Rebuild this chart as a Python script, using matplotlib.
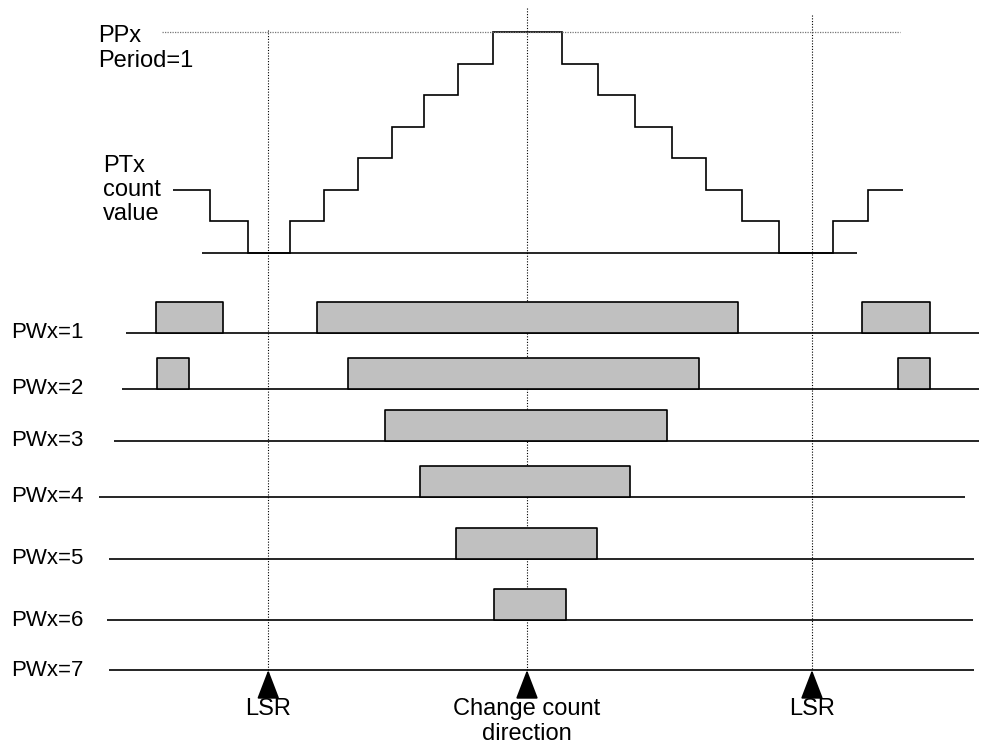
#! /usr/bin/env python3

import matplotlib
matplotlib.use("Agg")
import matplotlib.pyplot as plt

plt.rcParams['font.family'] = ['Liberation Sans', 'DejaVu Sans']

# time in timer ticks, 0 = change of count direction
count_edges = [-10.26, -9.2, -8.1, -6.87, -5.88, -4.9, -3.9, -2.99, -2.0, -0.99,
               1.01, 2.06, 3.13, 4.2, 5.19, 6.23, 7.3, 8.87, 9.88, 10.9]
count_levels = [2, 1, 0, 1, 2, 3, 4, 5, 6, 7, 6, 5, 4, 3, 2, 1, 0, 1, 2]
period_value = 7
count_axis_span = (-9.42, 9.57)
ppx_span = (-10.58, 10.81)

pw_labels = ["PWx=1", "PWx=2", "PWx=3", "PWx=4", "PWx=5", "PWx=6", "PWx=7"]
pw_pulses = [
    [(-10.75, -8.81), (-6.09, 6.12), (9.71, 11.68)],
    [(-10.72, -9.80), (-5.19, 4.99), (10.75, 11.68)],
    [(-4.12, 4.06)],
    [(-3.10, 2.99)],
    [(-2.06, 2.03)],
    [(-0.96, 1.13)],
    [],
]
pw_spans = [(-11.62, 13.10), (-11.74, 13.10), (-11.97, 13.10), (-12.41, 12.70),
            (-12.12, 12.96), (-12.17, 12.93), (-12.12, 12.96)]

event_times = [-7.5, 0.0, 8.26]
event_labels = ["LSR", "Change count\ndirection", "LSR"]

# layout (pixels)
W, H = 981, 745
PX_PER_TICK = 34.5
T0_PX = 527
row_y = [333, 389, 441, 497, 559, 620, 670]
pulse_h = 31
count_base_px = 253
step_px = 31.57
event_top_px = [30, 8, 15]
label_t = (11 - T0_PX) / PX_PER_TICK
fs_row = 16
fs = 17
lw = 1.2
grey = "#c0c0c0"

fig = plt.figure(figsize=(W / 100, H / 100), dpi=100)
ax = fig.add_axes([0, 0, 1, 1])
ax_cnt = fig.add_axes([0, 0, 1, 1])
xlim = (-T0_PX / PX_PER_TICK, (W - T0_PX) / PX_PER_TICK)
for a in (ax, ax_cnt):
    a.set_xlim(*xlim)
    a.axis("off")
ax.set_ylim(H, 0)
ax_cnt.set_ylim((count_base_px - H) / step_px, count_base_px / step_px)
ax_cnt.patch.set_visible(False)

# counter staircase
ax_cnt.hlines(period_value, *ppx_span, colors="#777777", linestyles=(0, (1, 1)), lw=0.9)
ax_cnt.hlines(0, *count_axis_span, colors="black", lw=lw)
ax_cnt.stairs(count_levels, count_edges, baseline=None, color="black", lw=lw)

# PWM outputs
for y, span, pulses in zip(row_y, pw_spans, pw_pulses):
    ax.hlines(y, *span, colors="black", lw=lw, zorder=2)
    if pulses:
        ax.broken_barh([(s, e - s) for s, e in pulses], (y - pulse_h, pulse_h),
                       facecolors=grey, edgecolors="black", lw=lw, zorder=3)
for y, lab in zip(row_y, pw_labels):
    ax.text(label_t, y, lab, fontsize=fs_row, va="center", ha="left")

# event markers
for t, top, lab in zip(event_times, event_top_px, event_labels):
    ax.vlines(t, top, row_y[-1], colors="black", linestyles=(0, (1, 1.5)), lw=0.8, zorder=1)
    ax.annotate("", xy=(t, row_y[-1]), xytext=(t, row_y[-1] + 25),
                arrowprops=dict(arrowstyle="-|>,head_length=1.3,head_width=0.5",
                                mutation_scale=14, color="black", lw=1.3,
                                shrinkA=0, shrinkB=0))
    for i, line in enumerate(lab.split("\n")):
        ax.text(t, 709 + 25 * i, line, fontsize=fs, ha="center", va="center")

# left side annotations
ax.text((98 - T0_PX) / PX_PER_TICK, 36, "PPx", fontsize=fs, va="center")
ax.text((98 - T0_PX) / PX_PER_TICK, 61, "Period=1", fontsize=fs, va="center")
ax.text((103 - T0_PX) / PX_PER_TICK, 166, "PTx", fontsize=fs, va="center")
ax.text((103 - T0_PX) / PX_PER_TICK, 190, "count", fontsize=fs, va="center")
ax.text((103 - T0_PX) / PX_PER_TICK, 214, "value", fontsize=fs, va="center")

fig.savefig("out.png", dpi=100)
